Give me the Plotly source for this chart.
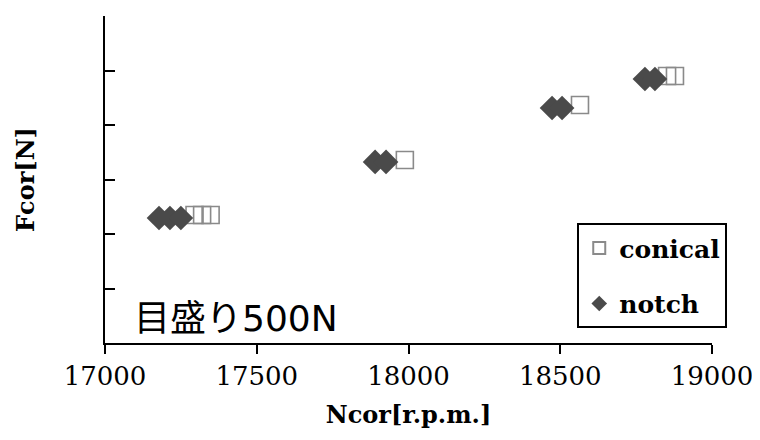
import plotly.graph_objects as go

# Data
conical_x = [17295, 17320, 17348, 17988, 18565, 18852, 18878]
conical_y = [1174, 1174, 1174, 1679, 2183, 2450, 2450]
notch_x = [17178, 17214, 17250, 17890, 17926, 18473, 18506, 18779, 18812]
notch_y = [1147, 1147, 1147, 1661, 1661, 2156, 2156, 2422, 2422]

x_ticks = [17000, 17500, 18000, 18500, 19000]
y_ticks = [0, 500, 1000, 1500, 2000, 2500, 3000]

serif = "DejaVu Serif, Liberation Serif, serif"

fig = go.Figure()
fig.add_trace(go.Scatter(
    x=conical_x, y=conical_y, mode="markers", name="<b>conical</b>",
    legendgroup="a",
    marker=dict(symbol="square-open", size=17, color="#8a8a8a", line=dict(width=1.6, color="#8a8a8a")),
))
fig.add_trace(go.Scatter(
    x=notch_x, y=notch_y, mode="markers", name="<b>notch</b>",
    legendgroup="b",
    marker=dict(symbol="diamond", size=19, color="#4a4a4a", line=dict(width=0)),
))

fig.update_layout(
    width=752, height=432,
    margin=dict(l=97, r=48, t=8, b=97, autoexpand=False),
    paper_bgcolor="white", plot_bgcolor="white",
    showlegend=True,
    legend=dict(
        x=0.778, y=0.366, xanchor="left", yanchor="top",
        bordercolor="black", borderwidth=2, bgcolor="white",
        font=dict(family=serif, size=25, color="black"),
        tracegroupgap=20, itemsizing="constant", itemwidth=30,
    ),
    xaxis=dict(
        range=[17000, 19000], tickvals=x_ticks, ticktext=[str(v) for v in x_ticks],
        showgrid=False, zeroline=False, showline=True, linecolor="black", linewidth=2,
        ticks="outside", ticklen=9, tickwidth=2, tickcolor="black", automargin=False,
        tickfont=dict(family=serif, size=26, color="black"),
        title=dict(text="<b>Ncor[r.p.m.]</b>", font=dict(family=serif, size=24, color="black"), standoff=16),
    ),
    yaxis=dict(
        range=[0, 3000], tickvals=y_ticks, showticklabels=False,
        showgrid=False, zeroline=False, showline=True, linecolor="black", linewidth=2,
        ticks="inside", ticklen=10, tickwidth=2, tickcolor="black", automargin=False,
        title=dict(text="<b>Fcor[N]</b>", font=dict(family=serif, size=24, color="black"), standoff=62),
    ),
    annotations=[
        dict(text="目盛り<span style='font-family:DejaVu Sans'>500N</span>",
             xref="paper", yref="paper", x=0.045, y=0.0,
             xanchor="left", yanchor="bottom", showarrow=False,
             font=dict(family="Noto Sans CJK JP", size=36, color="black")),
    ],
)

fig.write_html("out.html")
